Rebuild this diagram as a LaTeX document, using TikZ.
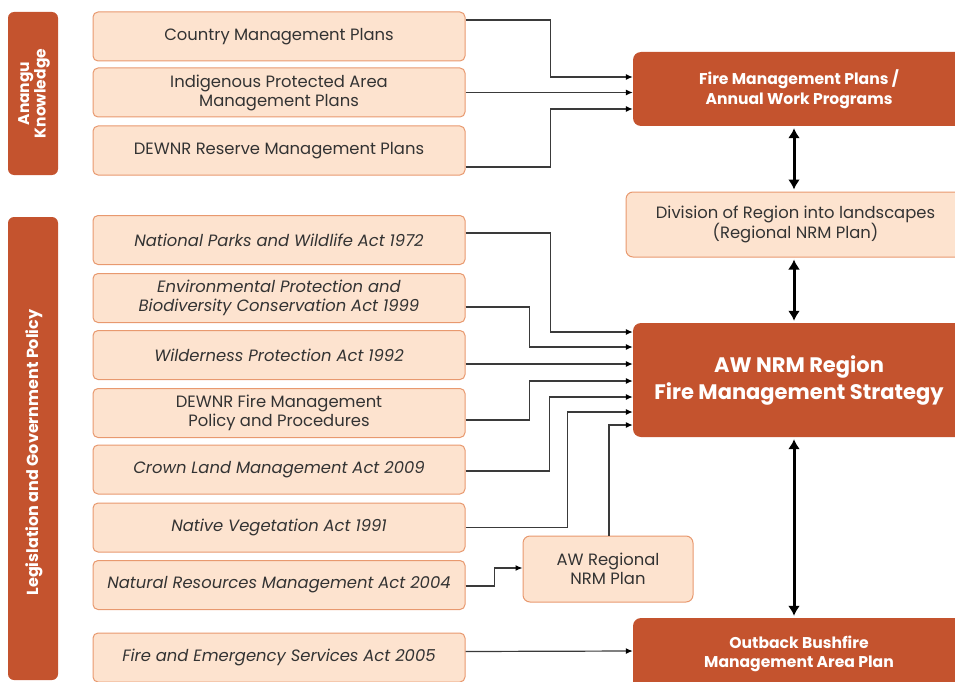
\documentclass[tikz,border=0pt]{standalone}
\usepackage{fontspec}
\setmainfont{Poppins}
\usetikzlibrary{arrows.meta}
\definecolor{rust}{HTML}{C4532E}
\definecolor{peach}{HTML}{FDE3CF}
\definecolor{peachedge}{HTML}{E8996F}
\definecolor{linegray}{HTML}{3A3A3A}
\begin{document}
\begin{tikzpicture}[x=1pt,y=-1pt,
  lbox/.style={draw=peachedge, fill=peach, line width=1pt, rounded corners=5pt,
    minimum width=372pt, minimum height=49pt, inner sep=0pt, align=center,
    font=\fontsize{16.4}{19}\selectfont, text=black!80},
  dbox/.style={fill=rust, rounded corners=8pt, inner sep=0pt, align=center,
    text=white, font=\bfseries\fontsize{15.6}{19.5}\selectfont},
  bar/.style={fill=rust, rounded corners=6pt, minimum width=50pt, inner sep=0pt},
  bartext/.style={text=white, font=\bfseries\fontsize{15.5}{16.5}\selectfont, rotate=90, align=center},
  conn/.style={draw=linegray, line width=1.2pt, -{Latex[length=7pt,width=6pt,black]}},
  dbl/.style={draw=black, line width=3pt, {Latex[length=10pt,width=12pt]}-{Latex[length=10pt,width=12pt]}, shorten <=2pt, shorten >=2pt}
]
\useasboundingbox (0,0) rectangle (955,682);
\clip (0,0) rectangle (955,682);
% side bars
\node[bar, minimum height=163pt] (ak) at (33,93.5) {};
\node[bartext] at ([xshift=1pt]ak.center) {Anangu\\Knowledge};
\node[bar, minimum height=463pt] (lg) at (33,448.5) {};
\node[bartext, font=\bfseries\fontsize{16}{18}\selectfont] at ([xshift=1pt,yshift=-4pt]lg.center) {Legislation and Government Policy};
% left boxes
\node[lbox] (cmp) at (279,36.5) {Country Management Plans};
\node[lbox] (ipa) at (279,92.5) {Indigenous Protected Area\\Management Plans};
\node[lbox] (dewr) at (279,150.5) {DEWNR Reserve Management Plans};
\node[lbox] (npw) at (279,240) {\itshape National Parks and Wildlife Act 1972};
\node[lbox] (epbc) at (279,298) {\itshape Environmental Protection and\\\itshape Biodiversity Conservation Act 1999};
\node[lbox] (wpa) at (279,355) {\itshape Wilderness Protection Act 1992};
\node[lbox] (dfm) at (279,413) {DEWNR Fire Management\\Policy and Procedures};
\node[lbox] (clm) at (279,469.5) {\itshape Crown Land Management Act 2009};
\node[lbox] (nva) at (279,527.5) {\itshape Native Vegetation Act 1991};
\node[lbox] (nrm) at (279,585) {\itshape Natural Resources Management Act 2004};
\node[lbox] (fes) at (279,657.5) {\itshape Fire and Emergency Services Act 2005};
% right boxes
\node[dbox, minimum width=332pt, minimum height=74pt] (fmp) at (799,89) {Fire Management Plans /\\Annual Work Programs};
\node[lbox, minimum width=339pt, minimum height=65pt, rounded corners=7pt] (div) at (795.5,224.5) {Division of Region into landscapes\\(Regional NRM Plan)};
\node[dbox, minimum width=332pt, minimum height=114pt, font=\bfseries\fontsize{21}{27}\selectfont] (aw) at (799,380) {AW NRM Region\\Fire Management Strategy};
\node[lbox, minimum width=170pt, minimum height=66pt, rounded corners=7pt] (awr) at (608,569) {AW Regional\\NRM Plan};
\node[dbox, minimum width=332pt, minimum height=72pt] (obf) at (799,654) {Outback Bushfire\\Management Area Plan};
% connectors to fire management plans
\draw[conn] ([yshift=16.5pt]cmp.east) -- ++(85,0) |- ([yshift=12pt]fmp.west);
\draw[conn] (ipa.east) -- (ipa.east -| fmp.west);
\draw[conn] ([yshift=-16.5pt]dewr.east) -- ++(85,0) |- ([yshift=-20pt]fmp.west);
% connectors to AW NRM strategy
\draw[conn] ([yshift=7pt]npw.east) -- ++(85,0) |- ([yshift=48pt]aw.west);
\draw[conn] ([yshift=-9pt]epbc.east) -- ++(64,0) |- ([yshift=33pt]aw.west);
\draw[conn] ([yshift=-9pt]wpa.east) -- ([yshift=16pt]aw.west);
\draw[conn] ([yshift=-7pt]dfm.east) -- ++(64,0) |- ([yshift=-1pt]aw.west);
\draw[conn] ([yshift=-1.5pt]clm.east) -- ++(84,0) |- ([yshift=-17pt]aw.west);
\draw[conn] (nva.east) -- ++(102,0) |- ([yshift=-32pt]aw.west);
\draw[conn] ([xshift=1pt]awr.north) |- ([yshift=-45pt]aw.west);
\draw[conn] ([yshift=-1pt]nrm.east) -- ++(29,0) |- ([yshift=1pt]awr.west);
\draw[conn] ([yshift=6pt]fes.east) -- ([yshift=3pt]obf.west);
% vertical double arrows
\coordinate (vx) at (794,0);
\draw[dbl] (vx |- fmp.south) -- (vx |- div.north);
\draw[dbl] (vx |- div.south) -- (vx |- aw.north);
\draw[dbl] (vx |- aw.south) -- (vx |- obf.north);
\end{tikzpicture}
\end{document}
